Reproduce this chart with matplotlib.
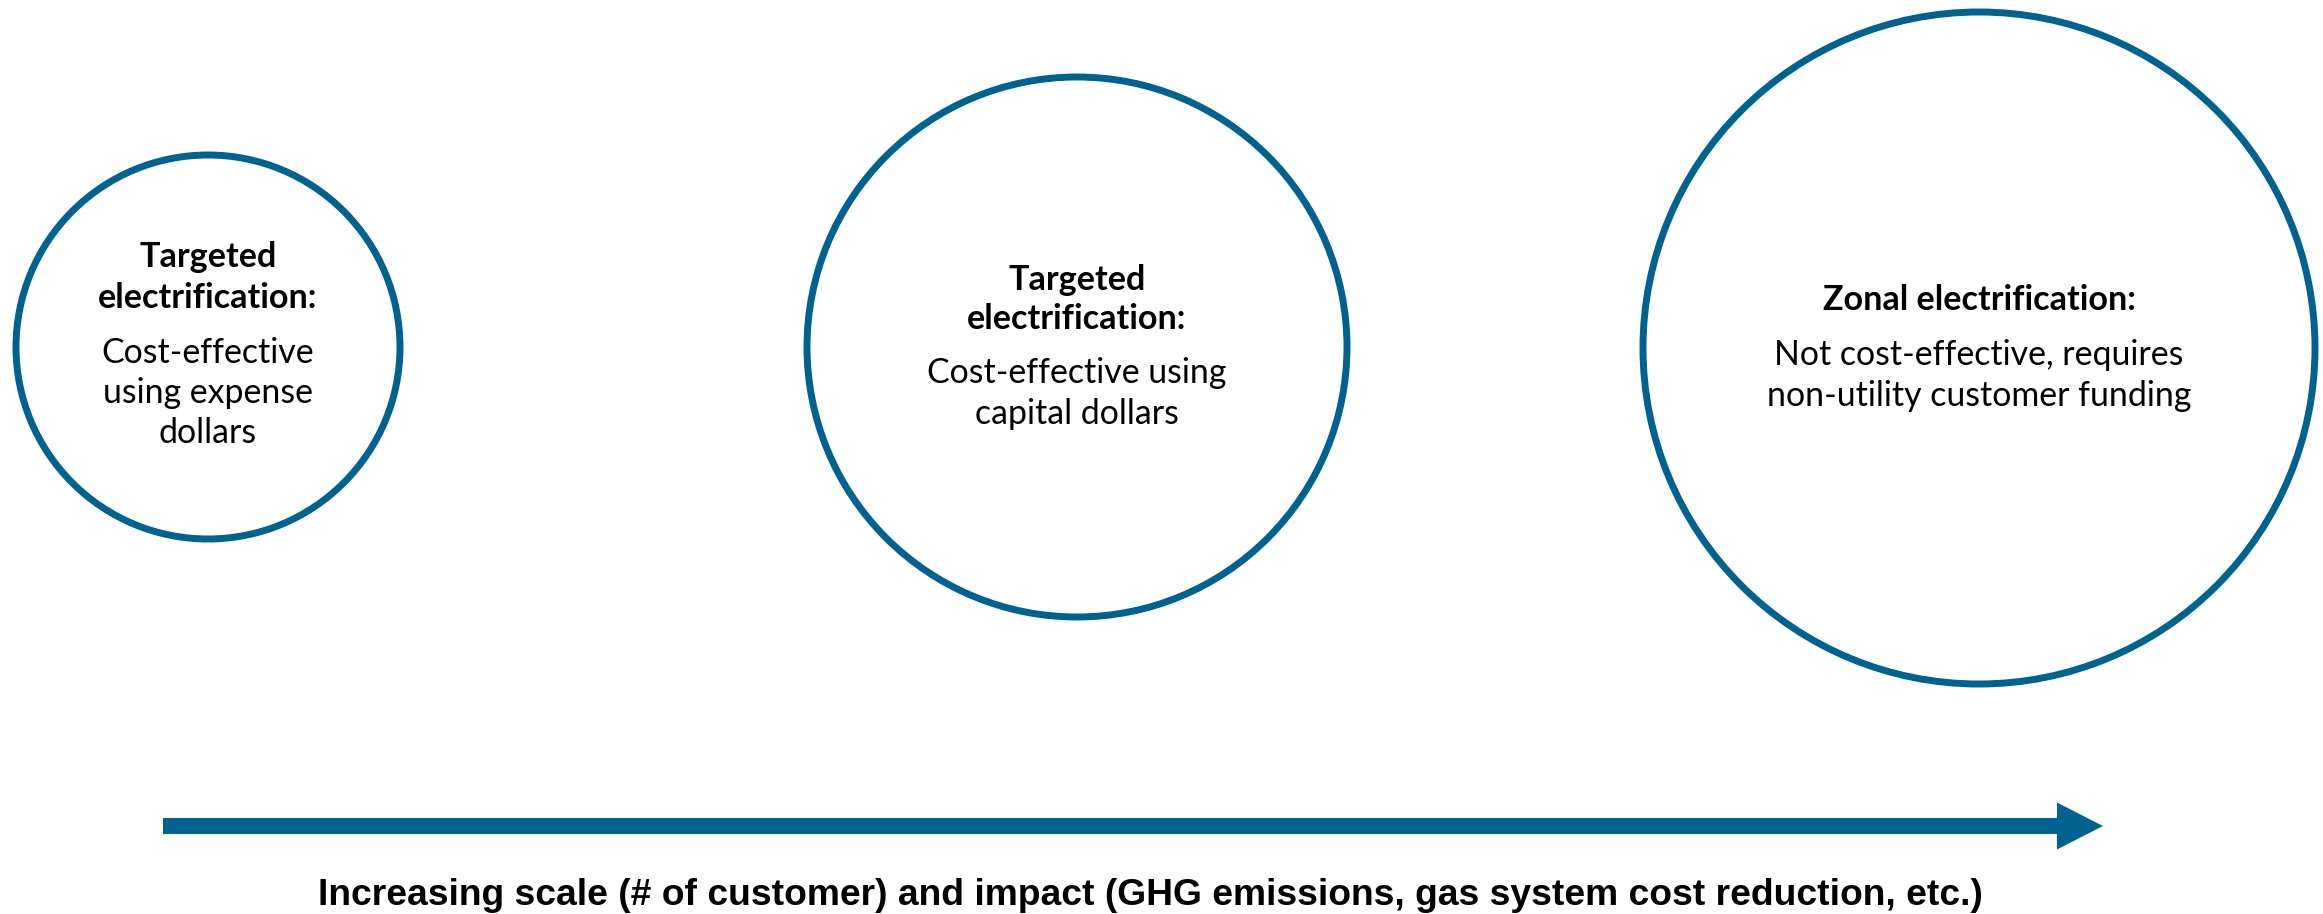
import matplotlib
matplotlib.use("Agg")
import matplotlib.pyplot as plt
from matplotlib.patches import Circle, FancyArrow

# ---- data ----
circle_x = [208, 1077, 1979]
circle_y = [347, 347, 348]
circle_r = [192, 270, 336]
titles = [["Targeted", "electrification:"],
          ["Targeted", "electrification:"],
          ["Zonal electrification:"]]
bodies = [["Cost-effective", "using expense", "dollars"],
          ["Cost-effective using", "capital dollars"],
          ["Not cost-effective, requires", "non-utility customer funding"]]
title_baselines = [[267, 308], [290, 329], [310]]
body_baselines = [[363, 403, 443], [383, 424], [365, 406]]
axis_label = "Increasing scale (# of customer) and impact (GHG emissions, gas system cost reduction, etc.)"

BLUE = "#00628F"

W, H = 2323, 914
fig = plt.figure(figsize=(W / 100, H / 100), dpi=100)
ax = fig.add_axes([0, 0, 1, 1])
ax.set_xlim(0, W)
ax.set_ylim(H, 0)
ax.axis("off")

for cx, cy, r, tl, bl, tb, bb in zip(circle_x, circle_y, circle_r, titles, bodies,
                                      title_baselines, body_baselines):
    ax.add_patch(Circle((cx, cy), r, fill=False, edgecolor=BLUE, linewidth=5.0))
    for line, yb in zip(tl, tb):
        ax.text(cx, yb, line, ha="center", va="baseline", fontsize=24.6,
                fontweight="bold", family="Lato", color="black")
    for line, yb in zip(bl, bb):
        ax.text(cx, yb, line, ha="center", va="baseline", fontsize=24.4,
                family="Lato", color="black")

ax.add_patch(FancyArrow(163, 826, 2103 - 163, 0, width=16, head_width=47,
                        head_length=46, length_includes_head=True,
                        color=BLUE, linewidth=0))

ax.text(1150, 905, axis_label, ha="center", va="baseline", fontsize=26.8,
        fontweight="bold", family="Liberation Sans", color="black")

fig.savefig("out.png", dpi=100, facecolor="white")
